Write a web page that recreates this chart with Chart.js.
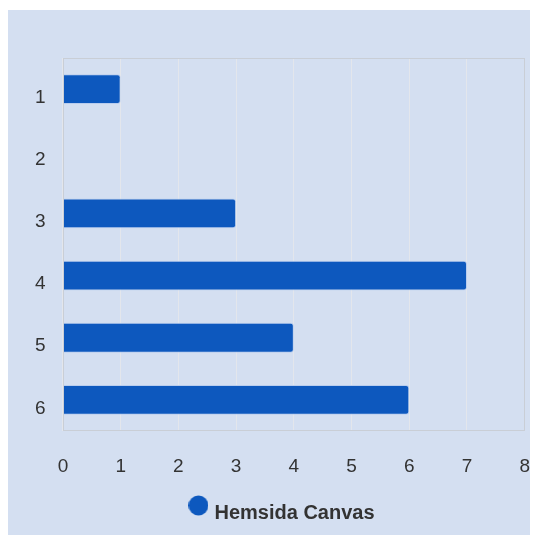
<!DOCTYPE html>
<html>
<head>
<meta charset="utf-8">
<script src="https://cdn.jsdelivr.net/npm/chart.js@4"></script>
<style>
    body { margin: 0; background: #fff; }
    #wrap {
        position: absolute;
        left: 8px;
        top: 10px;
        width: 522px;
        height: 525px;
        background: #d4dff1;
        overflow: hidden;
    }
</style>
</head>
<body>
<div id="wrap"><canvas id="graficoBarras"></canvas></div>
<script>
    const categorias = ['1', '2', '3', '4', '5', '6'];
    const valores = [1, 0, 3, 7, 4, 6];
    const ticksX = [0, 1, 2, 3, 4, 5, 6, 7, 8];

    const corBarra = '#0d58be';
    const fonte = '"Liberation Sans", Arial, sans-serif';

    // marcador da legenda: circulo um pouco acima do centro do texto
    const marcador = document.createElement('canvas');
    marcador.width = 20;
    marcador.height = 36;
    const mctx = marcador.getContext('2d');
    mctx.fillStyle = corBarra;
    mctx.beginPath();
    mctx.arc(10, 10.5, 10, 0, Math.PI * 2);
    mctx.fill();

    // borda cinza em volta da area do grafico
    const bordaArea = {
        id: 'bordaArea',
        afterDraw(chart) {
            const a = chart.chartArea;
            const ctx = chart.ctx;
            ctx.save();
            ctx.strokeStyle = '#c9ced6';
            ctx.lineWidth = 1;
            ctx.strokeRect(Math.round(a.left) + 0.5, Math.round(a.top) + 0.5,
                Math.round(a.right - a.left) - 1, Math.round(a.bottom - a.top) - 1);
            ctx.restore();
        }
    };

    const barras = document.getElementById('graficoBarras');

    new Chart(barras, {
        type: 'bar',
        data: {
            labels: categorias,
            datasets: [{
                label: 'Hemsida Canvas',
                data: valores,
                backgroundColor: corBarra,
                borderColor: '#b9cdee',
                borderWidth: 1,
                borderRadius: 3,
                barPercentage: 0.6,
                categoryPercentage: 0.8
            }]
        },
        plugins: [bordaArea],
        options: {
            indexAxis: 'y',
            responsive: true,
            maintainAspectRatio: false,
            animation: false,
            layout: {
                padding: { left: 27, top: 48, right: -2, bottom: 2 }
            },
            plugins: {
                legend: {
                    display: true,
                    position: 'bottom',
                    labels: {
                        usePointStyle: true,
                        pointStyle: marcador,
                        boxWidth: 12,
                        boxHeight: 20,
                        padding: 8,
                        color: '#333',
                        font: { family: fonte, size: 20, weight: 'bold' }
                    }
                },
                tooltip: { enabled: false }
            },
            scales: {
                x: {
                    min: 0,
                    max: 8,
                    afterBuildTicks: (axis) => { axis.ticks = ticksX.map(v => ({ value: v })); },
                    grid: {
                        color: '#e3e6ec',
                        lineWidth: 1,
                        drawTicks: true,
                        tickLength: 7,
                        tickColor: 'rgba(0,0,0,0)'
                    },
                    border: { display: false },
                    ticks: {
                        padding: 0,
                        color: '#333',
                        font: { family: fonte, size: 19, lineHeight: 3 }
                    }
                },
                y: {
                    grid: { display: false, drawTicks: false },
                    border: { display: false },
                    ticks: {
                        padding: 8.7,
                        crossAlign: 'far',
                        labelOffset: 8.5,
                        color: '#333',
                        font: { family: fonte, size: 19 }
                    }
                }
            }
        }
    });
</script>
</body>
</html>
